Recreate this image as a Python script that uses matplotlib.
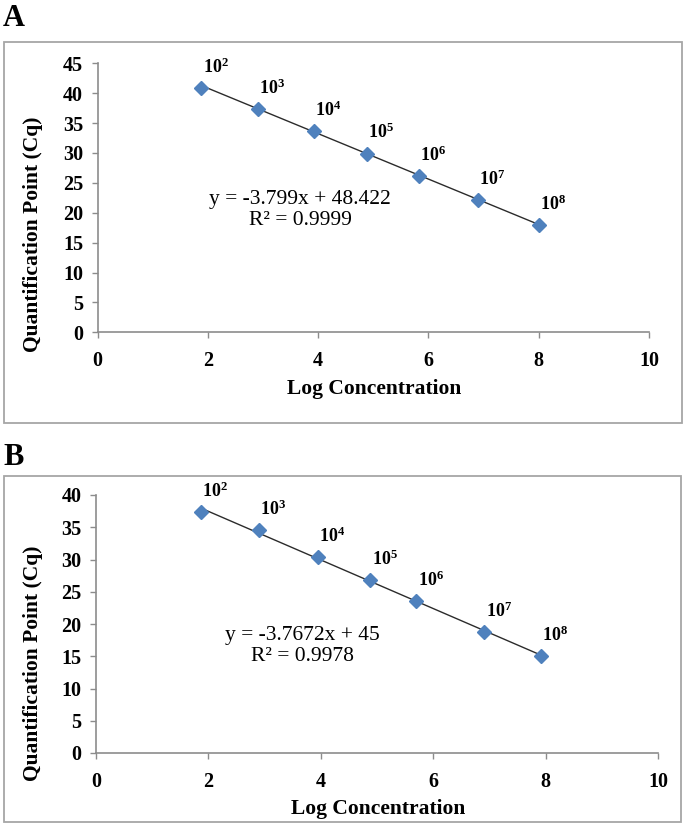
import matplotlib
matplotlib.use("Agg")
import matplotlib.pyplot as plt
from matplotlib.patches import Rectangle
import numpy as np

plt.rcParams['font.family'] = ['Liberation Serif', 'DejaVu Serif']
plt.rcParams['mathtext.fontset'] = 'custom'
plt.rcParams['mathtext.rm'] = 'Liberation Serif'
plt.rcParams['mathtext.bf'] = 'Liberation Serif:bold'
plt.rcParams['mathtext.it'] = 'Liberation Serif:italic'

# ---- data ----
point_labels = ["2", "3", "4", "5", "6", "7", "8"]  # exponents of 10

a_x = [1.88, 2.90, 3.92, 4.88, 5.82, 6.89, 8.00]
a_y = [40.9, 37.4, 33.6, 29.9, 26.2, 22.1, 17.9]
a_slope, a_intercept = -3.799, 48.422
a_r2 = "0.9999"

b_x = [1.87, 2.90, 3.95, 4.88, 5.70, 6.91, 7.92]
b_y = [37.3, 34.6, 30.4, 26.8, 23.6, 18.8, 15.0]
b_slope, b_intercept = -3.7672, 45
b_r2 = "0.9978"

a_yticks = [0, 5, 10, 15, 20, 25, 30, 35, 40, 45]
b_yticks = [0, 5, 10, 15, 20, 25, 30, 35, 40]
xticks = [0, 2, 4, 6, 8, 10]

W, H = 685, 825
fig = plt.figure(figsize=(W / 100, H / 100), dpi=100)

def fx(px):
    return px / W

def fy(py):
    return 1 - py / H

MARKER = '#4F81BD'
SPINE = '#8c8c8c'

def panel(rect, xs, ys, slope, intercept, r2, yticks, ymax, eq_pos, eq_text):
    ax = fig.add_axes(rect)
    ax.set_xlim(0, 10)
    ax.set_ylim(0, ymax)
    for s in ['top', 'right']:
        ax.spines[s].set_visible(False)
    for s in ['left', 'bottom']:
        ax.spines[s].set_color(SPINE)
        ax.spines[s].set_linewidth(1.2)
    ax.set_xticks(xticks)
    ax.set_yticks(yticks)
    ax.tick_params(direction='out', length=4.5, width=1, color=SPINE,
                   labelsize=14.5)
    ax.tick_params(axis='x', pad=9)
    ax.tick_params(axis='y', pad=6)
    for lab in ax.get_xticklabels() + ax.get_yticklabels():
        lab.set_fontweight('bold')
    xline = np.array([xs[0], xs[-1]])
    ax.plot(xline, slope * xline + intercept, color='#2b2b2b', lw=1.0, zorder=2)
    ax.plot(xs, ys, linestyle='none', marker='D', markersize=7,
            color=MARKER, markeredgecolor=MARKER, zorder=3, clip_on=False)
    for x, y, e in zip(xs, ys, point_labels):
        ax.annotate(r'$\mathbf{10^{%s}}$' % e, (x, y), xytext=(1, 8),
                    textcoords='offset points', ha='left', va='bottom',
                    fontsize=13)
    ax.text(eq_pos[0], eq_pos[1], eq_text + "\nR² = " + r2,
            transform=ax.transAxes, ha='center', va='center',
            multialignment='center', fontsize=15.5, linespacing=1.18)
    return ax

# Panel A
axA = panel([fx(97.7), fy(332.3), fx(649 - 97.7), (332.3 - 63.3) / H],
            a_x, a_y, a_slope, a_intercept, a_r2, a_yticks, 45,
            (0.367, 0.455), "y = -3.799x + 48.422")
# Panel B
axB = panel([fx(96), fy(753), fx(658 - 96), (753 - 495) / H],
            b_x, b_y, b_slope, b_intercept, b_r2, b_yticks, 40,
            (0.367, 0.415), "y = -3.7672x + 45")

# axis titles
fig.text(fx(374), fy(389), "Log Concentration", ha='center', va='center',
         fontsize=15.5, fontweight='bold')
fig.text(fx(33), fy(234), "Quantification Point (Cq)", ha='center', va='center',
         rotation=90, fontsize=15.5, fontweight='bold')
fig.text(fx(378), fy(809), "Log Concentration", ha='center', va='center',
         fontsize=15.5, fontweight='bold')
fig.text(fx(33), fy(663), "Quantification Point (Cq)", ha='center', va='center',
         rotation=90, fontsize=15.5, fontweight='bold')

# panel letters
fig.text(fx(3), fy(26), "A", ha='left', va='baseline', fontsize=22, fontweight='bold')
fig.text(fx(3), fy(465), "B", ha='left', va='baseline', fontsize=22, fontweight='bold')

# frames
for (x0, y0, x1, y1) in [(3.5, 41.7, 682, 423), (4, 476, 681, 822)]:
    fig.patches.append(Rectangle((fx(x0), fy(y1)), fx(x1 - x0), (y1 - y0) / H,
                                 transform=fig.transFigure, fill=False,
                                 edgecolor='#a6a6a6', linewidth=1.3))

fig.savefig("out.png", dpi=100, facecolor='white')
